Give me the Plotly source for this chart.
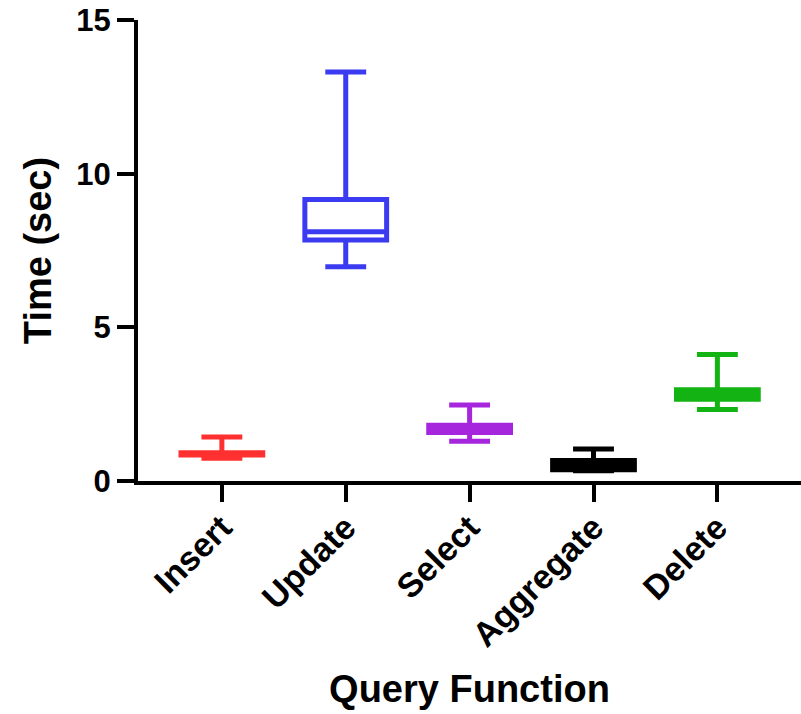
import plotly.graph_objects as go

categories = ["Insert", "Update", "Select", "Aggregate", "Delete"]
lower = [0.74, 6.97, 1.29, 0.33, 2.33]
q1 = [0.85, 7.84, 1.58, 0.37, 2.66]
median = [0.88, 8.11, 1.70, 0.52, 2.82]
q3 = [0.92, 9.16, 1.81, 0.67, 2.97]
upper = [1.43, 13.31, 2.47, 1.04, 4.12]
colors = ["#FF3030", "#3B3BF2", "#A526DC", "#000000", "#12B312"]

y_ticks = [0, 5, 10, 15]

fig = go.Figure()
for i, c in enumerate(categories):
    fig.add_trace(go.Box(
        x=[c], q1=[q1[i]], median=[median[i]], q3=[q3[i]],
        lowerfence=[lower[i]], upperfence=[upper[i]],
        name=c, width=0.66, whiskerwidth=0.5,
        line=dict(color=colors[i], width=5),
        fillcolor="rgba(255,255,255,0)",
        boxpoints=False, showlegend=False, hoverinfo="skip",
    ))

font_family = "Liberation Sans, Arial, sans-serif"
fig.update_layout(
    width=801, height=714,
    margin=dict(l=138, r=0, t=20, b=233),
    paper_bgcolor="white", plot_bgcolor="white",
    font=dict(family=font_family, color="black"),
    boxmode="overlay",
)
fig.update_xaxes(
    type="category", categoryorder="array", categoryarray=categories,
    range=[-0.677, 4.675], automargin=False,
    showline=True, linecolor="black", linewidth=4,
    ticks="outside", ticklen=17, tickwidth=4, tickcolor="black",
    tickangle=-45, ticklabelstandoff=-8,
    tickfont=dict(size=34, family=font_family, weight="bold"),
    showgrid=False, zeroline=False,
    title=dict(text="Query Function", font=dict(size=38, family=font_family, weight="bold"), standoff=24),
)
fig.update_yaxes(
    range=[0, 15], tickvals=y_ticks, ticktext=[str(v) for v in y_ticks],
    automargin=False,
    showline=True, linecolor="black", linewidth=4,
    ticks="outside", ticklen=17, tickwidth=4, tickcolor="black",
    tickfont=dict(size=31, family=font_family, weight="bold"),
    showgrid=False, zeroline=False,
    title=dict(text="Time (sec)", font=dict(size=38, family=font_family, weight="bold"), standoff=14),
)

fig.write_html(
    "out.html",
    config={"displayModeBar": False},
    post_script="document.body.style.margin='0';document.body.style.overflow='hidden';",
)
